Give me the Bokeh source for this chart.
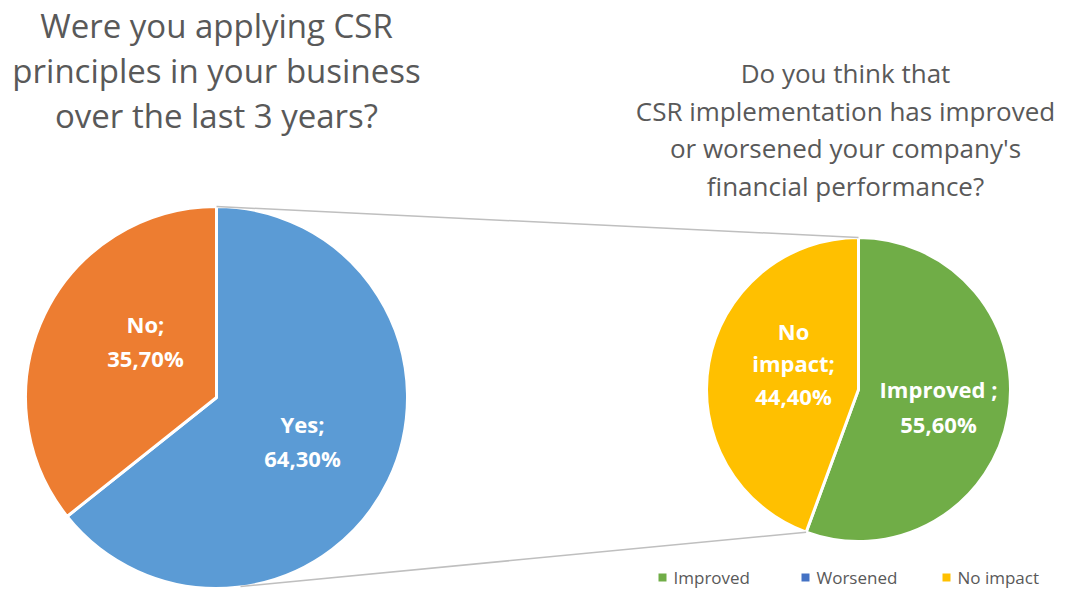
import math
from bokeh.plotting import figure
from bokeh.models import Range1d
from bokeh.core.properties import value
from bokeh.embed import file_html
from bokeh.resources import INLINE

# ---- data ----
left_categories = ["Yes", "No"]
left_values = [64.3, 35.7]
left_colors = ["#5B9BD5", "#ED7D31"]
left_labels = [["Yes;", "64,30%"], ["No;", "35,70%"]]

right_categories = ["Improved", "Worsened", "No impact"]
right_values = [55.6, 0.0, 44.4]
right_colors = ["#70AD47", "#4472C4", "#FFC000"]
right_labels = [["Improved ;", "55,60%"], [], ["No", "impact;", "44,40%"]]

left_title = ["Were you applying CSR", "principles in your business", "over the last 3 years?"]
right_title = ["Do you think that", "CSR implementation has improved",
               "or worsened your company's", "financial performance?"]

FONT = "Open Sans"
GRAY = "#595959"
W, H = 1057, 592


def Y(sy):
    return H - sy


p = figure(width=W, height=H, output_backend="svg", toolbar_location=None,
           x_range=Range1d(0, W), y_range=Range1d(0, H), min_border=0)
p.axis.visible = False
p.grid.visible = False
p.outline_line_color = None
p.background_fill_color = "white"

# left pie: Yes clockwise from top, No counter-clockwise from top
lcx, lcy, lr = 216, Y(397), 191
# right pie: Improved clockwise from top
rcx, rcy, rr = 858, Y(389), 152

total_l = sum(left_values)
yes_sweep = 2 * math.pi * left_values[0] / total_l
top = math.pi / 2
l_start = [top - yes_sweep, top]
l_end = [top, top - yes_sweep + 2 * math.pi]
for i in range(2):
    p.wedge(x=lcx, y=lcy, radius=lr, start_angle=l_start[i], end_angle=l_end[i],
            fill_color=left_colors[i], line_color="white", line_width=3)

total_r = sum(right_values)
angle = top
for cat, v, col in zip(right_categories, right_values, right_colors):
    if v <= 0:
        continue
    sweep = 2 * math.pi * v / total_r
    p.wedge(x=rcx, y=rcy, radius=rr, start_angle=angle - sweep, end_angle=angle,
            fill_color=col, line_color="white", line_width=3)
    angle -= sweep

# connector lines
imp_end = top - 2 * math.pi * right_values[0] / total_r
rbx = rcx + rr * math.cos(imp_end)
rby = rcy + rr * math.sin(imp_end)
p.line(x=[lcx, rcx], y=[lcy + lr, rcy + rr], line_color="#BFBFBF", line_width=1.5)
p.line(x=[lcx + 24, rbx], y=[lcy - lr + 2, rby], line_color="#BFBFBF", line_width=1.5)

# data labels
label_pos = {
    "Yes": (302, [423, 457]),
    "No": (145, [323, 357]),
    "Improved": (938, [388, 423]),
    "No impact": (793, [330, 362, 395]),
}
xs, ys, ts = [], [], []
for cats, labs in ((left_categories, left_labels), (right_categories, right_labels)):
    for c, lines in zip(cats, labs):
        if not lines:
            continue
        lx, lys = label_pos[c]
        for t, sy in zip(lines, lys):
            xs.append(lx); ys.append(Y(sy)); ts.append(t)
p.text(x=xs, y=ys, text=ts, text_color="white", text_font=value(FONT),
       text_font_style="bold", text_font_size="22px", text_align="center",
       text_baseline="middle")

# titles
p.text(x=[216] * 3, y=[Y(c) for c in (25, 70, 115)], text=left_title,
       text_color=GRAY, text_font=value(FONT), text_font_size="33px",
       text_align="center", text_baseline="middle")
p.text(x=[845] * 4, y=[Y(c) for c in (72, 110, 147, 185)], text=right_title,
       text_color=GRAY, text_font=value(FONT), text_font_size="26px",
       text_align="center", text_baseline="middle")

# legend
leg_x = [662, 805, 946]
leg_y = 577
p.scatter(x=leg_x, y=[Y(leg_y)] * 3, marker="square", size=8,
          fill_color=right_colors, line_color=None)
p.text(x=[x + 11 for x in leg_x], y=[Y(leg_y)] * 3, text=right_categories,
       text_color=GRAY, text_font=value(FONT), text_font_size="17px",
       text_align="left", text_baseline="middle")

open("out.html", "w").write(file_html(p, INLINE))
